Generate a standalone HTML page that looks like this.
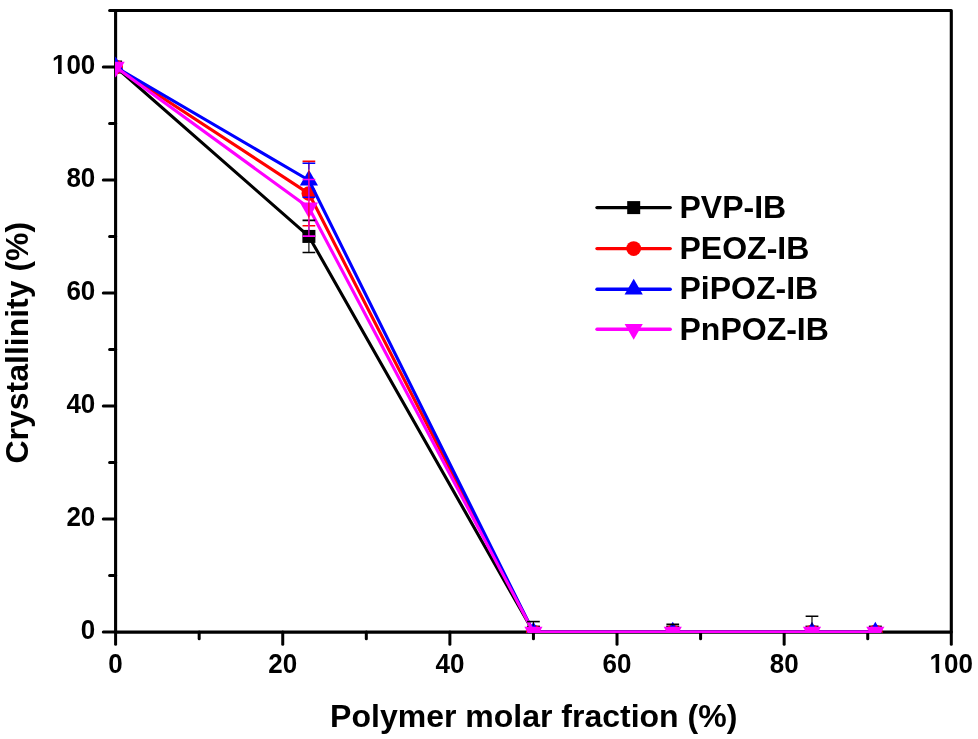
<!DOCTYPE html>
<html><head><meta charset="utf-8"><title>Crystallinity vs polymer molar fraction</title>
<style>
html,body{margin:0;padding:0;background:#fff;}
svg{display:block;}
text{font-family:'Liberation Sans', Arial, sans-serif;font-weight:bold;fill:#000;}
</style></head><body>
<svg width="978" height="739" viewBox="0 0 978 739">
<rect x="0" y="0" width="978" height="739" fill="#fff"/>
<defs><clipPath id="pc"><rect x="115.00" y="10.49" width="836.30" height="622.51"/></clipPath></defs>

<g stroke="#000" stroke-width="3.1" fill="none" stroke-linejoin="round">
<rect x="115.60" y="10.49" width="835.70" height="621.61"/>
</g>
<g stroke="#000" stroke-width="3.0" stroke-linecap="round">
<line x1="115.60" y1="632.10" x2="115.60" y2="644.30"/>
<line x1="199.17" y1="632.10" x2="199.17" y2="638.80"/>
<line x1="282.74" y1="632.10" x2="282.74" y2="644.30"/>
<line x1="366.31" y1="632.10" x2="366.31" y2="638.80"/>
<line x1="449.88" y1="632.10" x2="449.88" y2="644.30"/>
<line x1="533.45" y1="632.10" x2="533.45" y2="638.80"/>
<line x1="617.02" y1="632.10" x2="617.02" y2="644.30"/>
<line x1="700.59" y1="632.10" x2="700.59" y2="638.80"/>
<line x1="784.16" y1="632.10" x2="784.16" y2="644.30"/>
<line x1="867.73" y1="632.10" x2="867.73" y2="638.80"/>
<line x1="951.30" y1="632.10" x2="951.30" y2="644.30"/>
<line x1="115.60" y1="632.10" x2="103.30" y2="632.10"/>
<line x1="115.60" y1="575.59" x2="109.60" y2="575.59"/>
<line x1="115.60" y1="519.08" x2="103.30" y2="519.08"/>
<line x1="115.60" y1="462.57" x2="109.60" y2="462.57"/>
<line x1="115.60" y1="406.06" x2="103.30" y2="406.06"/>
<line x1="115.60" y1="349.55" x2="109.60" y2="349.55"/>
<line x1="115.60" y1="293.04" x2="103.30" y2="293.04"/>
<line x1="115.60" y1="236.53" x2="109.60" y2="236.53"/>
<line x1="115.60" y1="180.02" x2="103.30" y2="180.02"/>
<line x1="115.60" y1="123.51" x2="109.60" y2="123.51"/>
<line x1="115.60" y1="67.00" x2="103.30" y2="67.00"/>
<line x1="115.60" y1="10.49" x2="109.60" y2="10.49"/>
</g>
<g font-size="26">
<g transform="translate(115.60 672.70) scale(1 1.04)"><text text-anchor="middle">0</text></g>
<g transform="translate(282.74 672.70) scale(1 1.04)"><text text-anchor="middle">20</text></g>
<g transform="translate(449.88 672.70) scale(1 1.04)"><text text-anchor="middle">40</text></g>
<g transform="translate(617.02 672.70) scale(1 1.04)"><text text-anchor="middle">60</text></g>
<g transform="translate(784.16 672.70) scale(1 1.04)"><text text-anchor="middle">80</text></g>
<g transform="translate(951.30 672.70) scale(1 1.04)"><text text-anchor="middle">100</text><rect x="-20.85" y="-2.75" width="5.23" height="3.85" fill="#fff"/><rect x="-12.05" y="-2.75" width="4.90" height="3.85" fill="#fff"/></g>
<g transform="translate(95.30 638.60) scale(1 1.04)"><text text-anchor="end">0</text></g>
<g transform="translate(95.30 525.58) scale(1 1.04)"><text text-anchor="end">20</text></g>
<g transform="translate(95.30 412.56) scale(1 1.04)"><text text-anchor="end">40</text></g>
<g transform="translate(95.30 299.54) scale(1 1.04)"><text text-anchor="end">60</text></g>
<g transform="translate(95.30 186.52) scale(1 1.04)"><text text-anchor="end">80</text></g>
<g transform="translate(95.30 73.50) scale(1 1.04)"><text text-anchor="end">100</text><rect x="-42.54" y="-2.75" width="5.23" height="3.85" fill="#fff"/><rect x="-33.74" y="-2.75" width="4.90" height="3.85" fill="#fff"/></g>
</g>
<text transform="translate(533.7 726.6)" font-size="32" text-anchor="middle">Polymer molar fraction (%)</text>
<text transform="translate(27.8 342.7) rotate(-90)" font-size="32" text-anchor="middle">Crystallinity (%)</text>
<g clip-path="url(#pc)">
<polyline points="115.60,67.00 308.90,236.42 533.45,632.10 672.76,632.10 811.99,632.10 875.33,632.10" fill="none" stroke="#000000" stroke-width="3.1" stroke-linejoin="round" stroke-linecap="round"/>
<rect x="109.10" y="60.50" width="13.0" height="13.0" fill="#000000"/>
<rect x="302.40" y="229.92" width="13.0" height="13.0" fill="#000000"/>
<rect x="526.95" y="625.60" width="13.0" height="13.0" fill="#000000"/>
<rect x="666.26" y="625.60" width="13.0" height="13.0" fill="#000000"/>
<rect x="805.49" y="625.60" width="13.0" height="13.0" fill="#000000"/>
<rect x="868.83" y="625.60" width="13.0" height="13.0" fill="#000000"/>
<polyline points="115.60,67.00 308.90,193.58 533.45,632.10 672.76,632.10 811.99,632.10 875.33,632.10" fill="none" stroke="#ff0000" stroke-width="3.1" stroke-linejoin="round" stroke-linecap="round"/>
<circle cx="115.60" cy="67.00" r="7.4" fill="#ff0000"/>
<circle cx="308.90" cy="193.58" r="7.4" fill="#ff0000"/>
<circle cx="533.45" cy="632.10" r="7.4" fill="#ff0000"/>
<circle cx="672.76" cy="632.10" r="7.4" fill="#ff0000"/>
<circle cx="811.99" cy="632.10" r="7.4" fill="#ff0000"/>
<circle cx="875.33" cy="632.10" r="7.4" fill="#ff0000"/>
<polyline points="115.60,67.00 308.90,180.25 533.45,632.10 672.76,632.10 811.99,632.10 875.33,632.10" fill="none" stroke="#0000ff" stroke-width="3.1" stroke-linejoin="round" stroke-linecap="round"/>
<polygon points="115.60,56.53 124.70,72.23 106.50,72.23" fill="#0000ff"/>
<polygon points="308.90,169.78 318.00,185.48 299.80,185.48" fill="#0000ff"/>
<polygon points="533.45,621.63 542.55,637.33 524.35,637.33" fill="#0000ff"/>
<polygon points="672.76,621.63 681.86,637.33 663.66,637.33" fill="#0000ff"/>
<polygon points="811.99,621.63 821.09,637.33 802.89,637.33" fill="#0000ff"/>
<polygon points="875.33,621.63 884.43,637.33 866.23,637.33" fill="#0000ff"/>
<polyline points="115.60,67.00 308.90,207.82 533.45,632.10 672.76,632.10 811.99,632.10 875.33,632.10" fill="none" stroke="#ff00ff" stroke-width="3.1" stroke-linejoin="round" stroke-linecap="round"/>
<polygon points="115.60,77.47 124.70,61.77 106.50,61.77" fill="#ff00ff"/>
<polygon points="308.90,218.29 318.00,202.59 299.80,202.59" fill="#ff00ff"/>
<polygon points="533.45,642.57 542.55,626.87 524.35,626.87" fill="#ff00ff"/>
<polygon points="672.76,642.57 681.86,626.87 663.66,626.87" fill="#ff00ff"/>
<polygon points="811.99,642.57 821.09,626.87 802.89,626.87" fill="#ff00ff"/>
<polygon points="875.33,642.57 884.43,626.87 866.23,626.87" fill="#ff00ff"/>
<g stroke="#000000" fill="none"><line x1="308.90" y1="220.37" x2="308.90" y2="229.92" stroke-width="1.15"/><line x1="308.90" y1="242.92" x2="308.90" y2="252.47" stroke-width="1.15"/><line x1="302.55" y1="220.37" x2="315.25" y2="220.37" stroke-width="1.6"/><line x1="302.55" y1="252.47" x2="315.25" y2="252.47" stroke-width="1.6"/></g>
<g stroke="#000000" fill="none"><line x1="533.45" y1="621.59" x2="533.45" y2="625.60" stroke-width="1.15"/><line x1="533.45" y1="638.60" x2="533.45" y2="642.61" stroke-width="1.15"/><line x1="527.10" y1="621.59" x2="539.80" y2="621.59" stroke-width="1.6"/><line x1="527.10" y1="642.61" x2="539.80" y2="642.61" stroke-width="1.6"/></g>
<g stroke="#000000" fill="none"><line x1="672.76" y1="624.30" x2="672.76" y2="625.60" stroke-width="1.15"/><line x1="672.76" y1="638.60" x2="672.76" y2="639.90" stroke-width="1.15"/><line x1="666.41" y1="624.30" x2="679.11" y2="624.30" stroke-width="1.6"/><line x1="666.41" y1="639.90" x2="679.11" y2="639.90" stroke-width="1.6"/></g>
<g stroke="#000000" fill="none"><line x1="811.99" y1="616.28" x2="811.99" y2="625.60" stroke-width="1.15"/><line x1="811.99" y1="638.60" x2="811.99" y2="647.92" stroke-width="1.15"/><line x1="805.64" y1="616.28" x2="818.34" y2="616.28" stroke-width="1.6"/><line x1="805.64" y1="647.92" x2="818.34" y2="647.92" stroke-width="1.6"/></g>
<g stroke="#ff0000" fill="none"><line x1="308.90" y1="161.37" x2="308.90" y2="186.18" stroke-width="1.15"/><line x1="308.90" y1="200.98" x2="308.90" y2="225.79" stroke-width="1.15"/><line x1="302.55" y1="161.37" x2="315.25" y2="161.37" stroke-width="1.6"/><line x1="302.55" y1="225.79" x2="315.25" y2="225.79" stroke-width="1.6"/></g>
<g stroke="#0000ff" fill="none"><line x1="308.90" y1="163.24" x2="308.90" y2="169.78" stroke-width="1.15"/><line x1="308.90" y1="185.48" x2="308.90" y2="197.26" stroke-width="1.15"/><line x1="302.55" y1="163.24" x2="315.25" y2="163.24" stroke-width="1.6"/><line x1="302.55" y1="197.26" x2="315.25" y2="197.26" stroke-width="1.6"/></g>
<g stroke="#ff00ff" fill="none"><line x1="308.90" y1="179.57" x2="308.90" y2="202.59" stroke-width="1.15"/><line x1="308.90" y1="218.29" x2="308.90" y2="236.08" stroke-width="1.15"/><line x1="302.55" y1="179.57" x2="315.25" y2="179.57" stroke-width="1.6"/><line x1="302.55" y1="236.08" x2="315.25" y2="236.08" stroke-width="1.6"/></g>
</g>
<line x1="597.0" y1="207.6" x2="670.2" y2="207.6" stroke="#000000" stroke-width="3.4" stroke-linecap="round"/>
<rect x="627.20" y="201.10" width="13.0" height="13.0" fill="#000000"/>
<text x="679.5" y="218.4" font-size="32">PVP-IB</text>
<line x1="597.0" y1="248.6" x2="670.2" y2="248.6" stroke="#ff0000" stroke-width="3.4" stroke-linecap="round"/>
<circle cx="633.70" cy="248.60" r="7.4" fill="#ff0000"/>
<text x="679.5" y="258.9" font-size="32">PEOZ-IB</text>
<line x1="597.0" y1="289.3" x2="670.2" y2="289.3" stroke="#0000ff" stroke-width="3.4" stroke-linecap="round"/>
<polygon points="633.70,278.83 642.80,294.53 624.60,294.53" fill="#0000ff"/>
<text x="679.5" y="299.4" font-size="32">PiPOZ-IB</text>
<line x1="597.0" y1="329.3" x2="670.2" y2="329.3" stroke="#ff00ff" stroke-width="3.4" stroke-linecap="round"/>
<polygon points="633.70,339.77 642.80,324.07 624.60,324.07" fill="#ff00ff"/>
<text x="679.5" y="340.1" font-size="32">PnPOZ-IB</text>
</svg></body></html>
